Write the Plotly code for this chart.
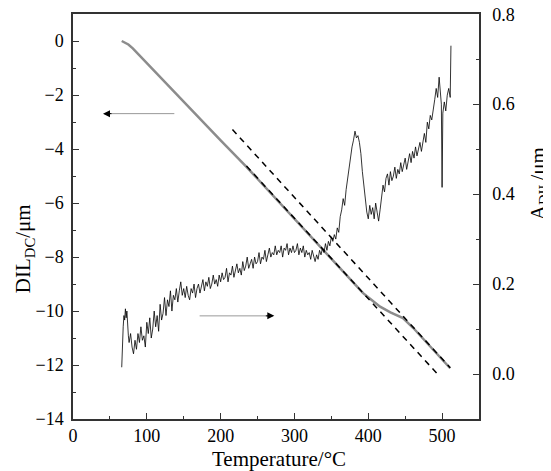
import plotly.graph_objects as go

# ---- DIL_DC curve (left axis, gray) ----
dil_T = [66, 70, 75, 81, 120, 160, 200, 235, 270, 310, 350, 393, 405, 416, 430, 447, 461, 480, 495, 511]
dil_V = [0.0, -0.05, -0.13, -0.27, -1.40, -2.55, -3.68, -4.66, -5.70, -6.85, -8.05, -9.34, -9.60, -9.84, -10.05, -10.26, -10.63, -11.20, -11.65, -12.12]

# ---- dashed tangent lines (left axis) ----
dash1_T = [216, 511]
dash1_V = [-3.28, -12.10]
dash2_T = [235, 495]
dash2_V = [-4.63, -12.37]

# ---- A_DIL curve (right axis, black noisy) ----
adil_T = [66, 66.5, 67, 68, 69, 70, 71, 72, 73, 74, 75, 76, 78, 80, 82, 84, 86, 88,
          90, 92, 94, 96, 98, 100, 102, 104, 106, 108, 110, 112, 114, 116, 118, 120,
          122, 124, 126, 128, 130, 132, 134, 136, 138, 140, 142, 144, 146, 148, 150,
          152, 154, 156, 158, 160, 162, 164, 166, 168, 170, 172, 174, 176, 178, 180,
          182, 184, 186, 188, 190, 192, 194, 196, 198, 200, 202, 204, 206, 208, 210,
          212, 214, 216, 218, 220, 222, 224, 226, 228, 230, 232, 234, 236, 238, 240,
          242, 244, 246, 248, 250, 252, 254, 256, 258, 260, 262, 264, 266, 268, 270,
          272, 274, 276, 278, 280, 282, 284, 286, 288, 290, 292, 294, 296, 298, 300,
          302, 304, 306, 308, 310, 312, 314, 316, 318, 320, 322, 324, 326, 328, 330,
          332, 334, 336, 338, 340, 342, 344, 346, 348, 350, 352, 354, 356, 358, 360,
          362, 364, 366, 368, 370, 372, 374, 376, 378, 380, 382, 384, 386, 388, 390,
          392, 394, 396, 398, 400, 402, 404, 406, 408, 410, 412, 414, 416, 418, 420,
          422, 424, 426, 428, 430, 432, 434, 436, 438, 440, 442, 444, 446, 448, 450,
          452, 454, 456, 458, 460, 462, 464, 466, 468, 470, 472, 474, 476, 478, 480,
          482, 484, 486, 488, 490, 492, 494, 496, 498, 499, 500, 501, 503, 505, 507,
          509, 511, 512]
adil_V = [0.015, 0.06, 0.10, 0.105, 0.13, 0.12, 0.145, 0.125, 0.14, 0.10, 0.085, 0.07, 0.09, 0.06, 0.045, 0.075, 0.055, 0.09,
          0.07, 0.105, 0.075, 0.085, 0.06, 0.115, 0.09, 0.125, 0.08, 0.10, 0.14, 0.105, 0.13, 0.095, 0.155, 0.12,
          0.135, 0.17, 0.13, 0.165, 0.15, 0.185, 0.14, 0.175, 0.165, 0.19, 0.16, 0.185, 0.205, 0.175, 0.19,
          0.17, 0.195, 0.175, 0.165, 0.19, 0.18, 0.20, 0.17, 0.19, 0.20, 0.18, 0.195, 0.21, 0.185, 0.205,
          0.195, 0.215, 0.19, 0.20, 0.22, 0.20, 0.21, 0.195, 0.22, 0.205, 0.225, 0.21, 0.215, 0.235, 0.205,
          0.225, 0.22, 0.24, 0.215, 0.23, 0.245, 0.225, 0.235, 0.22, 0.25, 0.23, 0.24, 0.26, 0.235, 0.245,
          0.255, 0.235, 0.26, 0.245, 0.25, 0.27, 0.245, 0.26, 0.255, 0.275, 0.25, 0.265, 0.28, 0.26, 0.27,
          0.265, 0.285, 0.265, 0.275, 0.27, 0.285, 0.26, 0.28, 0.275, 0.29, 0.265, 0.28, 0.27, 0.285, 0.27,
          0.275, 0.29, 0.265, 0.28, 0.27, 0.285, 0.26, 0.275, 0.265, 0.27, 0.255, 0.275, 0.26, 0.25, 0.265,
          0.255, 0.275, 0.265, 0.28, 0.27, 0.29, 0.275, 0.295, 0.285, 0.305, 0.295, 0.31, 0.30, 0.325, 0.315,
          0.35, 0.365, 0.39, 0.375, 0.41, 0.435, 0.46, 0.475, 0.505, 0.52, 0.54, 0.525, 0.53, 0.515, 0.49,
          0.45, 0.42, 0.385, 0.36, 0.345, 0.375, 0.355, 0.37, 0.345, 0.38, 0.36, 0.34, 0.365, 0.40, 0.42,
          0.405, 0.435, 0.445, 0.42, 0.45, 0.43, 0.44, 0.46, 0.435, 0.455, 0.445, 0.47, 0.45, 0.465, 0.48,
          0.455, 0.475, 0.49, 0.47, 0.495, 0.48, 0.505, 0.485, 0.50, 0.515, 0.495, 0.52, 0.535, 0.515, 0.56,
          0.545, 0.575, 0.565, 0.595, 0.61, 0.635, 0.615, 0.66, 0.63, 0.60, 0.415, 0.58, 0.605, 0.585, 0.62,
          0.635, 0.615, 0.73]

x_tickvals = [0, 100, 200, 300, 400, 500]
y_tickvals = [-14, -12, -10, -8, -6, -4, -2, 0]
y2_tickvals = [0.0, 0.2, 0.4, 0.6, 0.8]
y2_ticktext = ["0.0", "0.2", "0.4", "0.6", "0.8"]

FONT = "Liberation Serif"
AX = "#333333"

fig = go.Figure()
fig.add_trace(go.Scatter(x=dil_T, y=dil_V, mode="lines", line=dict(color="#8c8c8c", width=2.5), yaxis="y"))
fig.add_trace(go.Scatter(x=dash1_T, y=dash1_V, mode="lines", line=dict(color="black", width=1.5, dash="6px,5px"), yaxis="y"))
fig.add_trace(go.Scatter(x=dash2_T, y=dash2_V, mode="lines", line=dict(color="black", width=1.5, dash="6px,5px"), yaxis="y"))
fig.add_trace(go.Scatter(x=adil_T, y=adil_V, mode="lines", line=dict(color="black", width=0.8), yaxis="y2"))

axis_common = dict(showline=True, linecolor=AX, linewidth=1.5, ticks="inside", ticklen=6,
                   tickcolor=AX, tickwidth=1.2, showgrid=False, zeroline=False,
                   ticklabeloverflow="allow",
                   tickfont=dict(family=FONT, size=18, color="black"))

# the page body adds an 8px offset, so margins are 8px smaller on the left/top
fig.update_layout(
    width=551, height=471,
    margin=dict(l=65, r=80, t=6, b=60, autoexpand=False),
    paper_bgcolor="white", plot_bgcolor="white",
    showlegend=False,
    xaxis=dict(range=[0, 550], tickvals=x_tickvals, mirror=True,
               minor=dict(dtick=50, ticks="inside", ticklen=3.5, tickcolor=AX), **axis_common),
    yaxis=dict(range=[-14, 1], tickvals=y_tickvals, ticklabelstandoff=4,
               minor=dict(dtick=1, ticks="inside", ticklen=3.5, tickcolor=AX), **axis_common),
    yaxis2=dict(range=[-0.1, 0.8005], tickvals=y2_tickvals, ticktext=y2_ticktext, overlaying="y", side="right",
                ticklabelstandoff=8,
                minor=dict(dtick=0.1, ticks="inside", ticklen=3.5, tickcolor=AX), **axis_common),
    annotations=[
        dict(text="Temperature/°C", xref="paper", yref="paper", x=0.507, y=-0.098,
             showarrow=False, font=dict(family=FONT, size=21, color="black"), xanchor="center", yanchor="middle"),
        dict(text="DIL<sub>DC</sub>/μm", xref="paper", yref="paper", x=-0.12, y=0.42, textangle=-90,
             showarrow=False, font=dict(family=FONT, size=21, color="black"), xanchor="center", yanchor="middle"),
        dict(text="A<sub>DIL</sub>/μm", xref="paper", yref="paper", x=1.148, y=0.58, textangle=-90,
             showarrow=False, font=dict(family=FONT, size=21, color="black"), xanchor="center", yanchor="middle"),
        # left arrow (gray shaft + black head)
        dict(x=48, y=-2.69, ax=139.3, ay=-2.69, xref="x", yref="y", axref="x", ayref="y",
             text="", showarrow=True, arrowhead=0, arrowwidth=1, arrowcolor="#999999"),
        dict(x=40.6, y=-2.69, ax=10, ay=0, xref="x", yref="y",
             text="", showarrow=True, arrowhead=2, arrowsize=1.4, arrowwidth=1, arrowcolor="black"),
        # right arrow
        dict(x=265, y=-10.18, ax=169.5, ay=-10.18, xref="x", yref="y", axref="x", ayref="y",
             text="", showarrow=True, arrowhead=0, arrowwidth=1, arrowcolor="#999999"),
        dict(x=272.7, y=-10.18, ax=-10, ay=0, xref="x", yref="y",
             text="", showarrow=True, arrowhead=2, arrowsize=1.4, arrowwidth=1, arrowcolor="black"),
    ],
)

fig.write_html("out.html")
